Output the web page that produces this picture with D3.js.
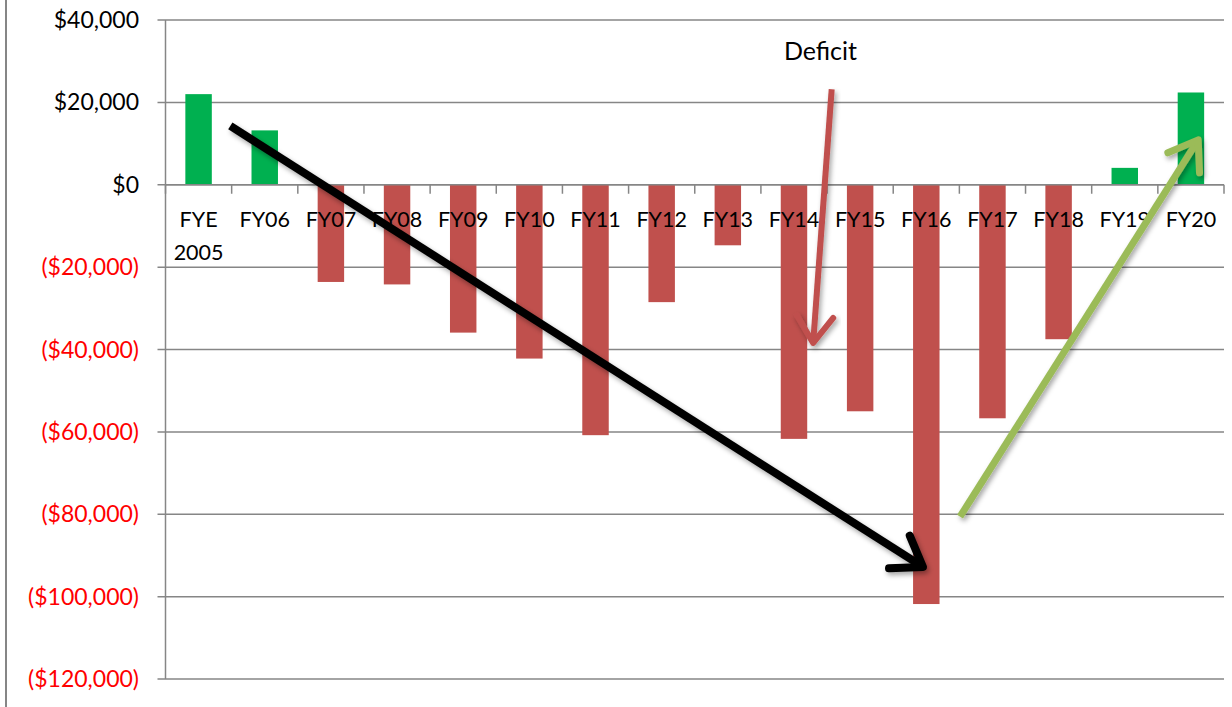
<!DOCTYPE html>
<html>
<head>
<meta charset="utf-8">
<script src="https://cdn.jsdelivr.net/npm/d3@7"></script>
<style>
  html, body { margin: 0; padding: 0; background: #fff; }
  svg { display: block; }
  text { font-family: Lato, "Open Sans", sans-serif; }
</style>
</head>
<body>
<svg id="chart" width="1232" height="707"></svg>
<script>
// Fiscal-year surplus / deficit
const categories = ["FYE\n2005", "FY06", "FY07", "FY08", "FY09", "FY10", "FY11", "FY12",
                    "FY13", "FY14", "FY15", "FY16", "FY17", "FY18", "FY19", "FY20"];
const values = [22000, 13200, -23600, -24200, -35900, -42200, -60800, -28500,
                -14700, -61700, -55000, -101800, -56700, -37500, 4100, 22400];
const yTicks = [40000, 20000, 0, -20000, -40000, -60000, -80000, -100000, -120000];

// Annotation arrows, in category units (0 = left edge) and dollar values
const trendDown = { from: [0.98, 14300], to: [11.45, -92800] };
const deficitPointer = { from: [10.07, 23200], to: [9.79, -38400] };
const trendUp = { from: [12.01, -80600], to: [15.61, 10900] };

const svg = d3.select("#chart");
const margin = { left: 165.5, right: 1224, top: 20, bottom: 679 };

const x = d3.scaleBand().domain(d3.range(categories.length))
  .range([margin.left, margin.right]).paddingInner(0.6).paddingOuter(0.3);
const xu = d3.scaleLinear().domain([0, categories.length]).range([margin.left, margin.right]);
const y = d3.scaleLinear().domain([-120000, 40000]).range([margin.bottom, margin.top]);

const grey = "#868686";

// outer frame line
svg.append("line").attr("x1", 6).attr("x2", 6).attr("y1", 0).attr("y2", 707)
  .attr("stroke", grey).attr("stroke-width", 2);

// horizontal gridlines
svg.append("g").selectAll("line").data(yTicks).join("line")
  .attr("x1", margin.left - 8).attr("x2", margin.right)
  .attr("y1", d => y(d)).attr("y2", d => y(d))
  .attr("stroke", grey).attr("stroke-width", 1.5);

// value axis line
svg.append("line").attr("x1", margin.left).attr("x2", margin.left)
  .attr("y1", y(40000)).attr("y2", y(-120000))
  .attr("stroke", grey).attr("stroke-width", 1.5);

// value axis labels
const fmt = d => {
  const s = "$" + d3.format(",")(Math.abs(d));
  return d < 0 ? "(" + s + ")" : s;
};
svg.append("g").selectAll("text").data(yTicks).join("text")
  .attr("x", 139).attr("y", d => y(d))
  .attr("dy", "0.35em").attr("text-anchor", "end")
  .attr("font-size", 23)
  .attr("fill", d => d < 0 ? "#ff0000" : "#000")
  .text(fmt);

// bars
svg.append("g").selectAll("rect").data(values).join("rect")
  .attr("x", (d, i) => x(i))
  .attr("width", x.bandwidth())
  .attr("y", d => y(Math.max(0, d)))
  .attr("height", d => Math.abs(y(d) - y(0)))
  .attr("fill", d => d >= 0 ? "#00b050" : "#c0504d");

// zero line and category ticks
svg.append("line").attr("x1", margin.left).attr("x2", margin.right)
  .attr("y1", y(0)).attr("y2", y(0)).attr("stroke", grey).attr("stroke-width", 1.5);
svg.append("g").selectAll("line").data(d3.range(categories.length + 1)).join("line")
  .attr("x1", d => xu(d)).attr("x2", d => xu(d))
  .attr("y1", y(0)).attr("y2", y(0) + 9)
  .attr("stroke", grey).attr("stroke-width", 1.5);

// category labels
const cat = svg.append("g").selectAll("text").data(categories).join("text")
  .attr("text-anchor", "middle").attr("font-size", 21.5).attr("fill", "#000")
  .attr("transform", (d, i) => `translate(${x(i) + x.bandwidth() / 2},${y(0) + 42})`);
cat.selectAll("tspan").data(d => d.split("\n")).join("tspan")
  .attr("x", 0).attr("dy", (d, i) => i === 0 ? 0 : 33).text(d => d);

// drop shadow for arrows
const defs = svg.append("defs");
defs.append("filter").attr("id", "shadow").attr("x", "-20%").attr("y", "-20%")
  .attr("width", "140%").attr("height", "140%")
  .append("feDropShadow").attr("dx", 2).attr("dy", 3).attr("stdDeviation", 2.5)
  .attr("flood-color", "#000").attr("flood-opacity", 0.35);

function arrow(a, color, width, head) {
  const x0 = xu(a.from[0]), y0 = y(a.from[1]);
  const x1 = xu(a.to[0]), y1 = y(a.to[1]);
  const ang = Math.atan2(y1 - y0, x1 - x0);
  const spread = Math.PI / 5.2;
  const b1 = [x1 - head * Math.cos(ang - spread), y1 - head * Math.sin(ang - spread)];
  const b2 = [x1 - head * Math.cos(ang + spread), y1 - head * Math.sin(ang + spread)];
  const g = svg.append("g").attr("filter", "url(#shadow)")
    .attr("fill", "none").attr("stroke", color).attr("stroke-width", width)
    .attr("stroke-linecap", "round").attr("stroke-linejoin", "round");
  g.append("path").attr("d", d3.line()([[x0, y0], [x1, y1]])).attr("stroke-linecap", "butt");
  g.append("path").attr("d", d3.line()([b1, [x1, y1], b2]));
}

arrow(trendDown, "#000", 8, 34);
arrow(deficitPointer, "#c0504d", 6, 32);
arrow(trendUp, "#9bbb59", 7, 33);

// annotation label
svg.append("text").attr("x", xu(9.9)).attr("y", y(32300))
  .attr("dy", "0.35em").attr("text-anchor", "middle")
  .attr("font-size", 25).attr("fill", "#000").text("Deficit");
</script>
</body>
</html>
